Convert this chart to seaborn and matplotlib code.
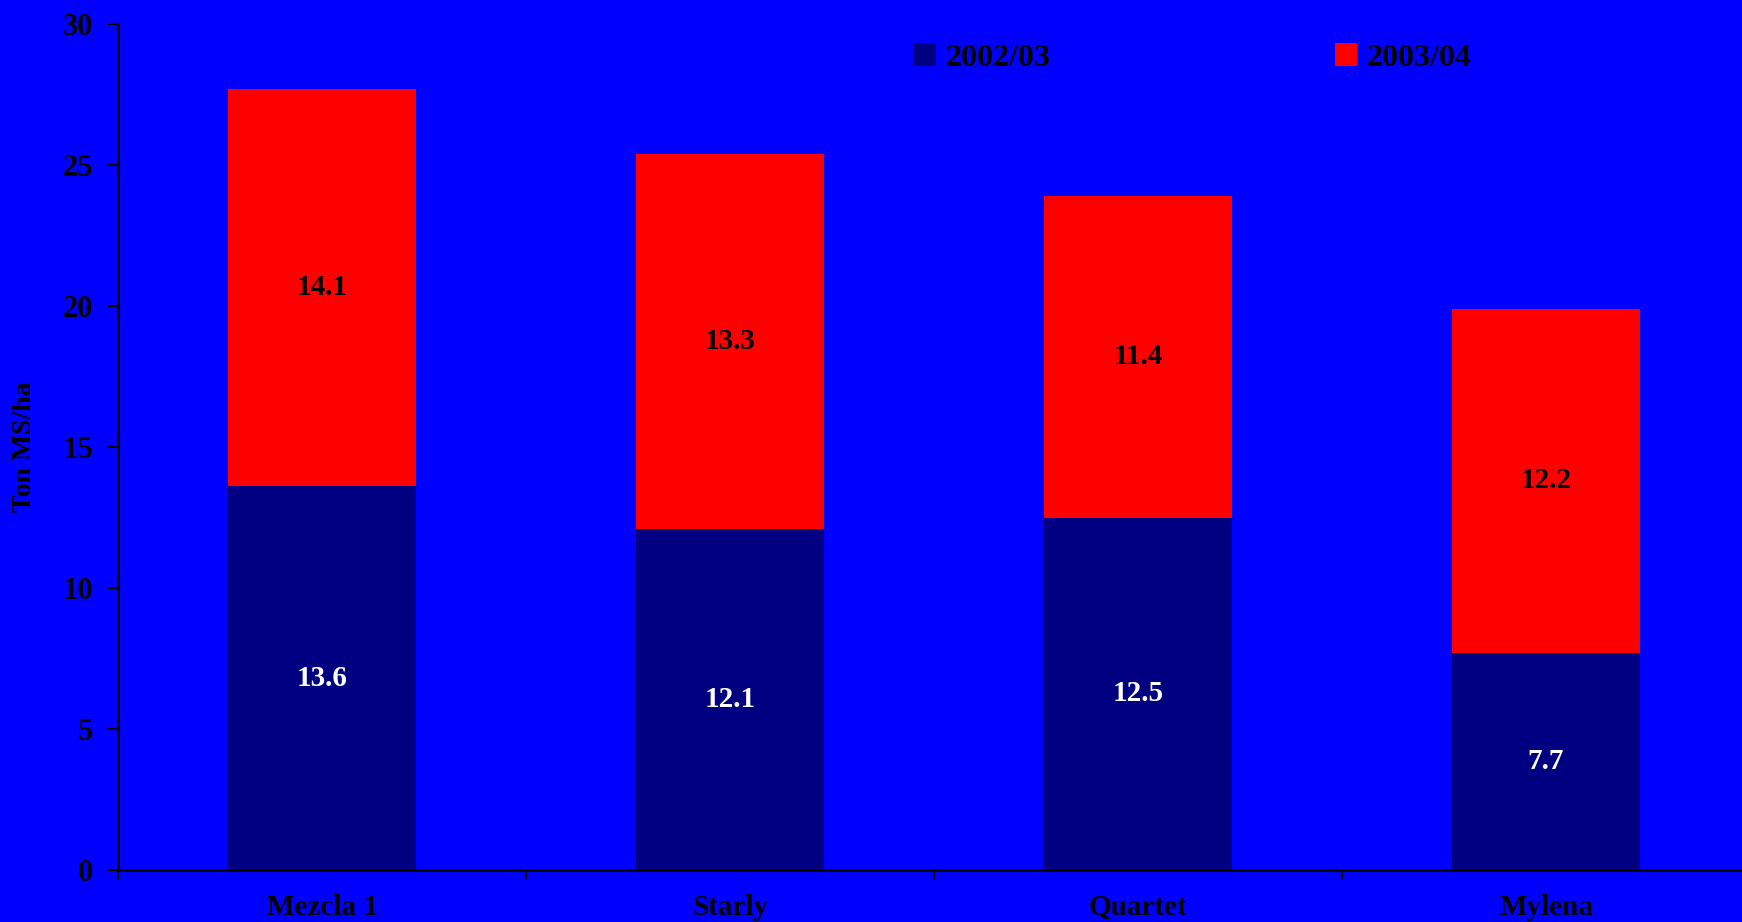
import matplotlib
matplotlib.use("Agg")
import matplotlib.pyplot as plt
import seaborn as sns
import numpy as np

# Data
varieties = ["Mezcla 1", "Starly", "Quartet", "Mylena"]
yield_0203 = [13.6, 12.1, 12.5, 7.7]
yield_0304 = [14.1, 13.3, 11.4, 12.2]
season_labels = ["2002/03", "2003/04"]

BLUE = "#0000FF"
NAVY = "#000080"
RED = "#FF0000"

sns.set_style("ticks")
plt.rcParams["font.family"] = ["Liberation Serif", "DejaVu Serif"]
plt.rcParams["font.weight"] = "bold"
for key in ["text.color", "axes.labelcolor", "xtick.color", "ytick.color"]:
    plt.rcParams[key] = "black"

totals = np.array(yield_0203) + np.array(yield_0304)

fig = plt.figure(figsize=(17.42, 9.22), dpi=100, facecolor=BLUE)
ax = fig.add_axes([118 / 1742, 52 / 922, 1632 / 1742, 846 / 922])
ax.set_facecolor(BLUE)

# stacked bars: total (red) behind, first season (navy) in front
sns.barplot(x=varieties, y=totals, color=RED, width=0.46, saturation=1,
            linewidth=0, ax=ax, label=season_labels[1])
sns.barplot(x=varieties, y=yield_0203, color=NAVY, width=0.46, saturation=1,
            linewidth=0, ax=ax, label=season_labels[0])
handles, labels = ax.get_legend_handles_labels()
if ax.get_legend() is not None:
    ax.get_legend().remove()

# value labels
for i, (a, b) in enumerate(zip(yield_0203, yield_0304)):
    ax.text(i, a / 2, f"{a:.1f}", ha="center", va="center",
            color="white", fontsize=21, fontweight="bold")
    ax.text(i, a + b / 2, f"{b:.1f}", ha="center", va="center",
            color="black", fontsize=21, fontweight="bold")

# axes
ax.set_ylim(0, 30)
ax.set_xlim(-0.5, 3.5)
ax.set_yticks(range(0, 31, 5))
ax.tick_params(axis="y", labelsize=22, length=7, width=1.5, pad=11)
ax.set_xticks(range(len(varieties)))
ax.set_xticklabels(varieties, fontsize=21, fontweight="bold")
ax.set_xticks(np.arange(-0.5, 4, 1), minor=True)
ax.tick_params(axis="x", which="major", length=0, pad=17)
ax.tick_params(axis="x", which="minor", length=7, width=1.5, direction="out")
for lab in ax.get_yticklabels():
    lab.set_fontweight("bold")

for side in ["top", "right"]:
    ax.spines[side].set_visible(False)
for side in ["left", "bottom"]:
    ax.spines[side].set_color("black")
    ax.spines[side].set_linewidth(2)

ax.set_xlabel("")
ax.set_ylabel("Ton MS/ha", fontsize=20, fontweight="bold", color="black")
ax.yaxis.set_label_coords(-0.0496, 0.5)

# legend
order = [labels.index(s) for s in season_labels]
leg = fig.legend([handles[i] for i in order], [labels[i] for i in order],
                 loc="center left", bbox_to_anchor=(914 / 1742, 1 - 58 / 922),
                 ncol=2, frameon=False, fontsize=23, borderpad=0,
                 borderaxespad=0, handlelength=0.7, handleheight=0.7,
                 handletextpad=0.3, columnspacing=8.9)
for t in leg.get_texts():
    t.set_fontweight("bold")
    t.set_color("black")

fig.savefig("out.png", dpi=100, facecolor=BLUE)
